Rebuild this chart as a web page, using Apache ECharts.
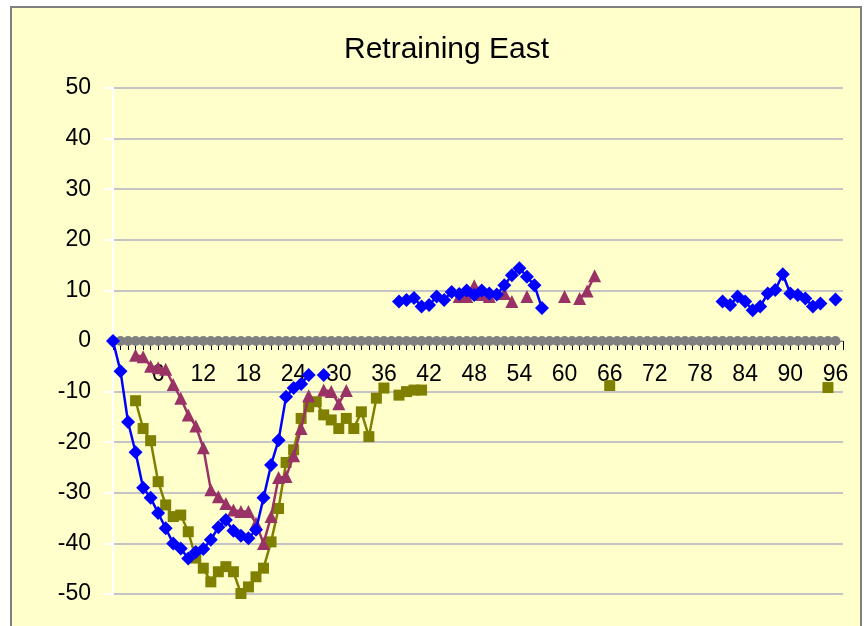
<!DOCTYPE html>
<html>
<head>
<meta charset="utf-8">
<script src="https://cdn.jsdelivr.net/npm/echarts@6/dist/echarts.min.js"></script>
<style>
  html, body { margin: 0; padding: 0; background: #ffffff; }
  #wrap { position: relative; width: 866px; height: 626px; overflow: hidden; }
  #frame { position: absolute; left: 10px; top: 6px; width: 848px; height: 700px;
           background: #ffffcc; border: 2px solid #808080; }
  #chart { position: absolute; left: 0; top: 0; width: 866px; height: 626px; }
</style>
</head>
<body>
<div id="wrap">
  <div id="frame"></div>
  <div id="chart"></div>
</div>
<script>
// x categories 0..97 (labels shown every 6)
const categories = [
  0, 1, 2, 3, 4, 5, 6, 7, 8, 9, 10, 11, 12, 13, 14, 15, 16, 17, 18, 19,
  20, 21, 22, 23, 24, 25, 26, 27, 28, 29, 30, 31, 32, 33, 34, 35, 36, 37, 38, 39,
  40, 41, 42, 43, 44, 45, 46, 47, 48, 49, 50, 51, 52, 53, 54, 55, 56, 57, 58, 59,
  60, 61, 62, 63, 64, 65, 66, 67, 68, 69, 70, 71, 72, 73, 74, 75, 76, 77, 78, 79,
  80, 81, 82, 83, 84, 85, 86, 87, 88, 89, 90, 91, 92, 93, 94, 95, 96, 97
];
const yTicks = [-50, -40, -30, -20, -10, 0, 10, 20, 30, 40, 50];

const blue = [
  0, -6, -16, -22, -29, -31, -34, -37, -40, -41,
  -43, -41.7, -41.1, -39.3, -36.8, -35.4, -37.5, -38.5, -39, -37.3,
  -31, -24.5, -19.6, -11, -9.3, -8.5, -6.7, null, -6.7, null,
  null, null, null, null, null, null, null, null, 7.8, 8.1,
  8.5, 6.8, 7.1, 8.8, 8.1, 9.7, 9.3, 10, 9.1, 10,
  9.4, 9.2, 11, 13, 14.4, 12.7, 11, 6.5, null, null,
  null, null, null, null, null, null, null, null, null, null,
  null, null, null, null, null, null, null, null, null, null,
  null, 7.8, 7.1, 8.8, 7.8, 6.1, 6.8, 9.4, 10.1, 13.2,
  9.4, 9.1, 8.4, 6.8, 7.4, null, 8.2
];
const maroon = [
  null, null, null, -2.8, -3.1, -5, -5.3, -5.6, -8.6, -11.3,
  -14.6, -16.8, -21.1, -29.4, -30.8, -32.1, -33.4, -33.7, -33.7, -36,
  -40, -34.7, -27, -26.8, -22.7, -17.3, -10.8, null, -9.7, -10,
  -12.4, -9.8, null, null, null, null, null, null, null, null,
  null, null, null, null, null, null, 8.8, 8.8, 10.9, 9.2,
  8.8, null, 9.4, 7.8, null, 8.8, null, null, null, null,
  8.8, null, 8.4, 9.9, 12.9, null, null, null, null, null,
  null, null, null, null, null, null, null, null, null, null,
  null, null, null, null, null, null, null, null, null, null,
  null, null, null, null, null, null, null
];
const olive = [
  null, null, null, -11.8, -17.3, -19.7, -27.8, -32.4, -34.7, -34.4,
  -37.7, -42.9, -44.9, -47.6, -45.6, -44.6, -45.6, -49.9, -48.6, -46.6,
  -44.9, -39.7, -33.1, -24, -21.5, -15.3, -13, -12, -14.6, -15.6,
  -17.3, -15.3, -17.3, -14, -18.9, -11.3, -9.3, null, -10.7, -10,
  -9.7, -9.7, null, null, null, null, null, null, null, null,
  null, null, null, null, null, null, null, null, null, null,
  null, null, null, null, null, null, -8.8, null, null, null,
  null, null, null, null, null, null, null, null, null, null,
  null, null, null, null, null, null, null, null, null, null,
  null, null, null, null, null, -9.2, null
];
const gray = [
  0, 0, 0, 0, 0, 0, 0, 0, 0, 0, 0, 0, 0, 0, 0, 0, 0, 0, 0, 0,
  0, 0, 0, 0, 0, 0, 0, 0, 0, 0, 0, 0, 0, 0, 0, 0, 0, 0, 0, 0,
  0, 0, 0, 0, 0, 0, 0, 0, 0, 0, 0, 0, 0, 0, 0, 0, 0, 0, 0, 0,
  0, 0, 0, 0, 0, 0, 0, 0, 0, 0, 0, 0, 0, 0, 0, 0, 0, 0, 0, 0,
  0, 0, 0, 0, 0, 0, 0, 0, 0, 0, 0, 0, 0, 0, 0, 0, 0
];

const labelFont = "'Liberation Sans Narrow', 'Arial Narrow', 'Liberation Sans', Arial, sans-serif";

// plot area: y from 50 (top 88px) to -50 (594px), so zero sits at 341px
const gridTop = 88;
const gridBottom = 32;
const zeroOffset = -((626 - gridBottom) - (gridTop + 626 - gridBottom) / 2);

const chart = echarts.init(document.getElementById("chart"), null, { renderer: "canvas" });
chart.setOption({
  animation: false,
  backgroundColor: "transparent",
  title: {
    text: "Retraining East",
    left: 339,
    top: 30,
    textStyle: {
      fontFamily: "'Liberation Sans', Arial, sans-serif",
      fontSize: 30,
      fontWeight: "normal",
      color: "#000000",
    },
  },
  grid: { left: 113, right: 23, top: gridTop, bottom: gridBottom, outerBoundsMode: "none" },
  xAxis: {
    type: "category",
    boundaryGap: false,
    data: categories,
    position: "bottom",
    offset: zeroOffset,
    axisLine: { onZero: false, lineStyle: { color: "#808080", width: 1 } },
    axisTick: {
      interval: 0,
      length: 9,
      lineStyle: { color: "#000000", width: 1 },
    },
    axisLabel: {
      interval: function (idx) { return idx > 0 && idx < 97 && idx % 6 === 0; },
      margin: 22,
      fontFamily: labelFont,
      fontSize: 23,
      color: "#000000",
    },
    splitLine: { show: false },
  },
  yAxis: {
    type: "value",
    min: yTicks[0],
    max: yTicks[yTicks.length - 1],
    interval: 10,
    axisLine: { show: true, lineStyle: { color: "#ffffff", width: 2 } },
    axisTick: { show: true, length: 9, lineStyle: { color: "#ffffff", width: 2 } },
    axisLabel: {
      margin: 22,
      fontFamily: labelFont,
      fontSize: 23,
      color: "#000000",
    },
    splitLine: { lineStyle: { color: "#c4c4c4", width: 2 } },
  },
  series: [
    {
      name: "zero",
      type: "line",
      data: gray,
      symbol: "circle",
      symbolSize: 10,
      showAllSymbol: true,
      lineStyle: { color: "#808080", width: 4 },
      itemStyle: { color: "#808080" },
      z: 2,
    },
    {
      name: "olive",
      type: "line",
      data: olive,
      symbol: "rect",
      symbolSize: 11,
      showAllSymbol: true,
      lineStyle: { color: "#808000", width: 2.5 },
      itemStyle: { color: "#808000" },
      z: 3,
    },
    {
      name: "maroon",
      type: "line",
      data: maroon,
      symbol: "triangle",
      symbolSize: 13,
      showAllSymbol: true,
      lineStyle: { color: "#993366", width: 2.5 },
      itemStyle: { color: "#993366" },
      z: 4,
    },
    {
      name: "blue",
      type: "line",
      data: blue,
      symbol: "diamond",
      symbolSize: 14,
      showAllSymbol: true,
      lineStyle: { color: "#0000ff", width: 2.5 },
      itemStyle: { color: "#0000ff" },
      z: 5,
    },
  ],
});
</script>
</body>
</html>
